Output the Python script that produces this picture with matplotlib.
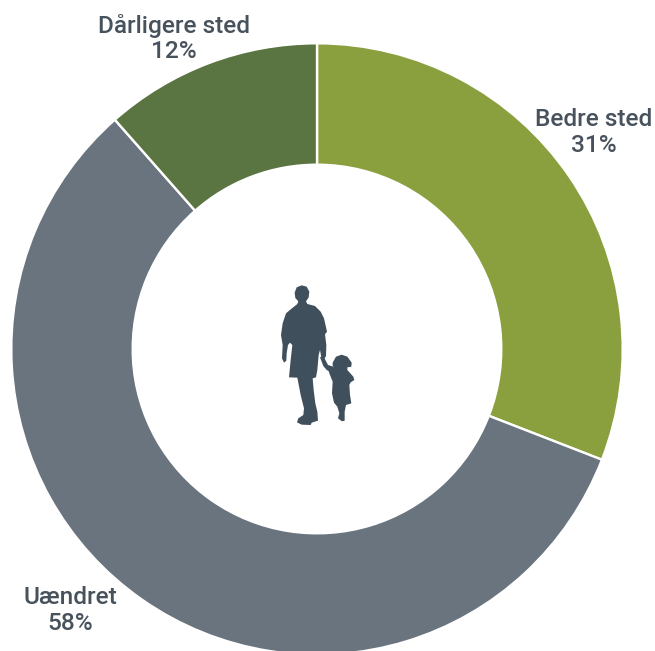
import matplotlib
matplotlib.use("Agg")
import matplotlib.pyplot as plt
from matplotlib.patches import Polygon

# Data
categories = ["Bedre sted", "Uændret", "Dårligere sted"]
percent_labels = ["31%", "58%", "12%"]
shares = [30.9, 57.6, 11.5]   # drawn slice sizes
colors = ["#8aa03e", "#69747e", "#5a7541"]

W, H = 655, 651
fig = plt.figure(figsize=(W / 100, H / 100), dpi=100)
ax = fig.add_axes([0, 0, 1, 1])

CX, CY, R, R_IN = 317, H - 349, 305.7, 184.3
ax.pie(shares, colors=colors, startangle=90, counterclock=False,
       center=(CX, CY), radius=R,
       wedgeprops=dict(width=R - R_IN, edgecolor="white", linewidth=1.7))
ax.set_xlim(0, W)
ax.set_ylim(0, H)
ax.set_aspect("equal")
ax.axis("off")

# Labels
label_pos = [(593.5, 132.5), (70, 610.5), (174, 38.5)]
for name, pct, (x, y) in zip(categories, percent_labels, label_pos):
    ax.text(x, H - y, f"{name}\n{pct}", ha="center", va="center",
            fontsize=17.6, family="Roboto", fontweight="medium",
            color="#48525c", linespacing=1.12)

# Centre silhouette (decoration), outline in zoom-crop coordinates
man = [(104,68),(110,52),(125,46),(140,50),(148,65),(146,82),(138,94),(142,102),(165,108),(182,125),
       (192,145),(201,185),(195,193),(199,225),(198,258),(192,268),(184,262),(180,240),(176,255),
       (172,300),(168,322),(158,325),(161,360),(166,400),(172,425),(174,452),(155,458),(152,465),
       (125,464),(111,457),(115,445),(130,435),(132,415),(122,375),(112,323),(87,322),(92,270),
       (97,225),(90,218),(84,225),(80,250),(79,272),(72,278),(66,265),(68,225),(63,195),(68,160),
       (78,130),(92,118),(112,102),(115,94),(106,84)]
arm = [(180,262),(190,258),(204,285),(220,290),(226,300),(210,305),(200,300),(190,288)]
child = [(218,278),(228,260),(245,254),(262,260),(275,278),(274,290),(262,292),(262,300),(280,320),
         (283,330),(272,337),(268,345),(270,375),(274,400),(258,405),(254,425),(254,452),(246,454),
         (234,445),(238,430),(232,410),(222,398),(216,370),(218,335),(208,310),(204,296),(222,292),(218,288)]
for outline in (man, arm, child):
    pts = [(260 + x / 3, H - (270 + y / 3)) for x, y in outline]
    ax.add_patch(Polygon(pts, closed=True, facecolor="#3f4f5c", edgecolor="none", zorder=5))

fig.savefig("out.png", dpi=100, facecolor="white")
